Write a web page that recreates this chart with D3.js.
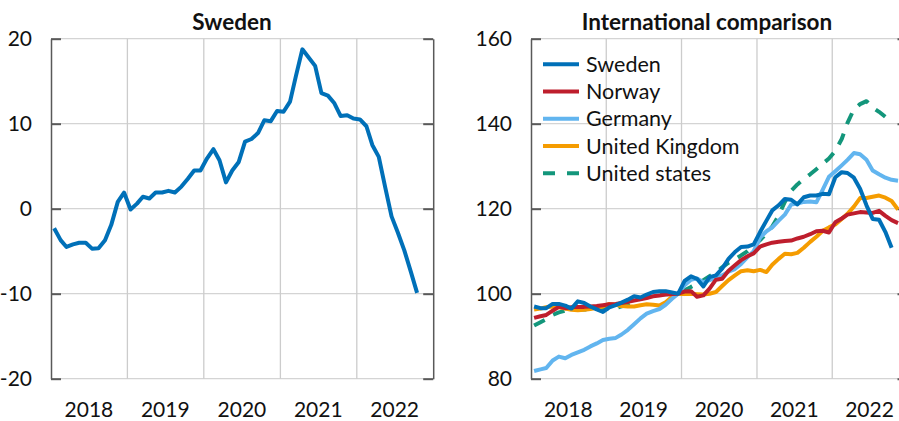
<!DOCTYPE html>
<html>
<head>
<meta charset="utf-8">
<script src="https://cdn.jsdelivr.net/npm/d3@7"></script>
<style>
  body { margin: 0; background: #fff; }
  text { font-family: Lato, "Open Sans", sans-serif; fill: #111; }
</style>
</head>
<body>
<div id="chart-area"></div>
<script>
// canvas size
const WIDTH = 899
const HEIGHT = 421

// months from Jan 2018, one value per month
const months = d3.timeMonth.range(new Date(2018, 0, 1), new Date(2022, 11, 1))
const years = ["2018", "2019", "2020", "2021", "2022"]

// left panel: Sweden, percent
const swedenPct = [-2.3, -3.7, -4.5, -4.2, -4.0, -4.0, -4.7, -4.65, -3.7, -1.9, 0.8, 1.9,
  -0.1, 0.6, 1.4, 1.2, 1.9, 1.9, 2.1, 1.9, 2.6, 3.5, 4.5, 4.5,
  5.9, 7.0, 5.7, 3.1, 4.5, 5.5, 7.9, 8.2, 8.9, 10.4, 10.3, 11.5,
  11.4, 12.6, 15.6, 18.75, 17.8, 16.8, 13.6, 13.3, 12.4, 10.9, 11.0, 10.6,
  10.5, 9.7, 7.5, 6.1, 2.6, -0.9, -2.8, -4.9, -7.4, -9.9]
const leftTicks = [-20, -10, 0, 10, 20]

// right panel: index
const sweden = [97.0, 96.6, 96.6, 97.6, 97.6, 97.2, 96.5, 98.2, 97.8, 97.0, 96.3, 95.7,
  96.8, 97.3, 97.9, 98.6, 99.4, 99.1, 99.8, 100.4, 100.6, 100.6, 100.3, 100.0,
  103.0, 104.1, 103.5, 101.7, 103.9, 104.3, 105.9, 108.2, 109.8, 111.0, 111.1, 111.6,
  114.5, 117.2, 119.6, 120.8, 122.3, 122.1, 121.0, 122.7, 123.1, 123.1, 123.5, 123.4,
  127.4, 128.6, 128.4, 127.3, 124.7, 120.8, 117.6, 117.4, 114.5, 110.8]
const norway = [94.3, 94.7, 95.0, 96.0, 96.9, 96.6, 96.8, 96.9, 96.9, 97.0, 97.1, 97.3,
  97.5, 97.6, 97.8, 98.1, 98.4, 98.7, 99.0, 99.4, 99.6, 99.8, 99.9, 100.0,
  100.5, 100.6, 99.3, 99.6, 101.2, 103.3, 103.5, 105.4, 106.7, 107.9, 108.8, 109.5,
  111.1, 111.6, 112.0, 112.2, 112.4, 112.5, 113.0, 113.4, 114.0, 114.7, 114.8, 114.4,
  116.8, 117.7, 118.6, 118.9, 119.2, 119.1, 119.0, 119.5, 118.3, 117.3, 116.6]
const germany = [81.8, 82.2, 82.5, 84.3, 85.2, 84.8, 85.6, 86.2, 86.8, 87.6, 88.3, 89.1,
  89.4, 89.6, 90.4, 91.5, 92.8, 94.2, 95.3, 95.9, 96.4, 97.4, 98.8, 100.0,
  102.0, 103.3, 103.6, 102.7, 103.2, 103.8, 104.3, 105.2, 105.8, 107.0, 108.6, 110.0,
  113.2, 114.7, 115.6, 117.2, 118.6, 121.0, 121.2, 121.6, 121.7, 121.5, 124.5, 127.5,
  128.8, 130.2, 131.5, 133.1, 132.8, 131.5, 129.0, 128.1, 127.3, 126.8, 126.6]
const uk = [96.3, 96.5, 96.8, 97.0, 96.8, 96.5, 96.2, 96.1, 96.2, 96.4, 96.7, 97.0,
  97.6, 97.4, 97.1, 97.0, 97.0, 97.3, 97.5, 97.4, 97.2, 98.0, 99.3, 100.0,
  99.9, 100.0, 99.9, 99.8, 100.0, 100.4, 101.8, 103.2, 104.3, 105.3, 105.5, 105.3,
  105.6, 105.1, 106.8, 108.2, 109.4, 109.3, 109.6, 110.8, 112.2, 113.4, 114.8, 115.6,
  116.3, 117.6, 118.8, 120.5, 122.5, 122.5, 122.8, 123.1, 122.6, 121.8, 119.8]
const us = [92.5, 93.3, 94.0, 95.0, 95.6, 96.0, 96.2, 96.3, 96.3, 96.3, 96.4, 96.5,
  96.5, 96.6, 97.0, 97.6, 98.2, 98.8, 99.3, 99.6, 99.8, 99.9, 99.9, 100.0,
  100.8, 101.6, 102.3, 103.2, 104.1, 105.0, 106.2, 107.3, 108.1, 109.0, 110.0, 111.2,
  112.6, 114.2, 115.8, 118.4, 121.6, 124.2, 125.7, 127.0, 128.1, 129.3, 130.6, 131.8,
  133.6, 136.4, 140.2, 143.4, 144.6, 145.3, 143.8, 142.8, 141.6]
const rightTicks = [80, 100, 120, 140, 160]

const seriesNames = ["Sweden", "Norway", "Germany", "United Kingdom", "United states"]
const seriesValues = [sweden, norway, germany, uk, us]
const seriesColors = ["#0070b8", "#be1e2d", "#62b5ef", "#f59c00", "#13967b"]

const TOP = 38.7
const BOTTOM = 378.7

const svg = d3.select("#chart-area").append("svg")
  .attr("width", WIDTH)
  .attr("height", HEIGHT)

// middle of each month
const mid = d => new Date(d.getFullYear(), d.getMonth(), 16)

function panel(x0, x1, yDomain, ticks, title, titleX) {
  const g = svg.append("g")
  const x = d3.scaleTime()
    .domain([new Date(2018, 0, 1), new Date(2023, 0, 1)])
    .range([x0, x1])
  const y = d3.scaleLinear()
    .domain(yDomain)
    .range([BOTTOM, TOP])

  // horizontal grid
  g.selectAll(".hgrid").data(ticks).enter().append("line")
    .attr("x1", x0).attr("x2", x1)
    .attr("y1", d => y(d)).attr("y2", d => y(d))
    .attr("stroke", "#d4d4d4").attr("stroke-width", 1.3)

  // vertical grid at year boundaries
  const bounds = years.slice(1).map(yr => new Date(+yr, 0, 1))
  g.selectAll(".vgrid").data(bounds).enter().append("line")
    .attr("x1", d => x(d)).attr("x2", d => x(d))
    .attr("y1", TOP).attr("y2", BOTTOM)
    .attr("stroke", "#cccccc").attr("stroke-width", 1.3)

  // left axis with inward ticks
  const left = g.append("g").attr("transform", `translate(${x0},0)`)
    .call(d3.axisLeft(y).tickValues(ticks).tickSize(-10).tickSizeOuter(0).tickPadding(19))
  // right axis with inward ticks
  const right = g.append("g").attr("transform", `translate(${x1},0)`)
    .call(d3.axisRight(y).tickValues(ticks).tickSize(-10).tickSizeOuter(0).tickFormat(""))
  ;[left, right].forEach(a => {
    a.select(".domain").attr("stroke", "#595959").attr("stroke-width", 1.5)
    a.selectAll(".tick line").attr("stroke", "#595959").attr("stroke-width", 2)
  })
  left.selectAll(".tick text")
    .attr("font-size", "21px")
    .attr("font-family", "Lato, sans-serif")
    .attr("fill", "#111")
    .text(d => d < 0 ? "-" + Math.abs(d) : d)

  // year labels
  g.selectAll(".year").data(years).enter().append("text")
    .attr("x", d => x(new Date(+d, 6, 1)))
    .attr("y", 417)
    .attr("text-anchor", "middle")
    .attr("font-size", "21px")
    .text(d => d)

  // title
  g.append("text")
    .attr("x", titleX)
    .attr("y", 30)
    .attr("text-anchor", "middle")
    .attr("font-size", "22.5px")
    .attr("font-weight", "bold")
    .text(title)

  return { g, x, y }
}

// left panel
const L = panel(51, 433.2, [-20, 20], leftTicks, "Sweden", 232)
const lineL = d3.line()
  .x((d, i) => L.x(mid(months[i])))
  .y(d => L.y(d))
L.g.append("path")
  .attr("d", lineL(swedenPct))
  .attr("fill", "none")
  .attr("stroke", seriesColors[0])
  .attr("stroke-width", 4)
  .attr("stroke-linejoin", "round")

// right panel
const R = panel(531, 907.5, [80, 160], rightTicks, "International comparison", 707)
const lineR = d3.line()
  .x((d, i) => R.x(mid(months[i])))
  .y(d => R.y(d))

// draw from last to first so Sweden ends on top
for (let k = seriesValues.length - 1; k >= 0; k--) {
  R.g.append("path")
    .attr("d", lineR(seriesValues[k]))
    .attr("fill", "none")
    .attr("stroke", seriesColors[k])
    .attr("stroke-width", 4)
    .attr("stroke-linejoin", "round")
    .attr("stroke-dasharray", k === 4 ? "12,10" : null)
}

// legend
const legend = R.g.append("g")
seriesNames.forEach((name, k) => {
  const cy = 64.3 + k * 27.25
  legend.append("line")
    .attr("x1", 543).attr("x2", 579)
    .attr("y1", cy).attr("y2", cy)
    .attr("stroke", seriesColors[k])
    .attr("stroke-width", 4)
    .attr("stroke-dasharray", k === 4 ? "12,12" : null)
  legend.append("text")
    .attr("x", 586)
    .attr("y", cy + 7.5)
    .attr("font-size", "21.5px")
    .text(name)
})
</script>
</body>
</html>
